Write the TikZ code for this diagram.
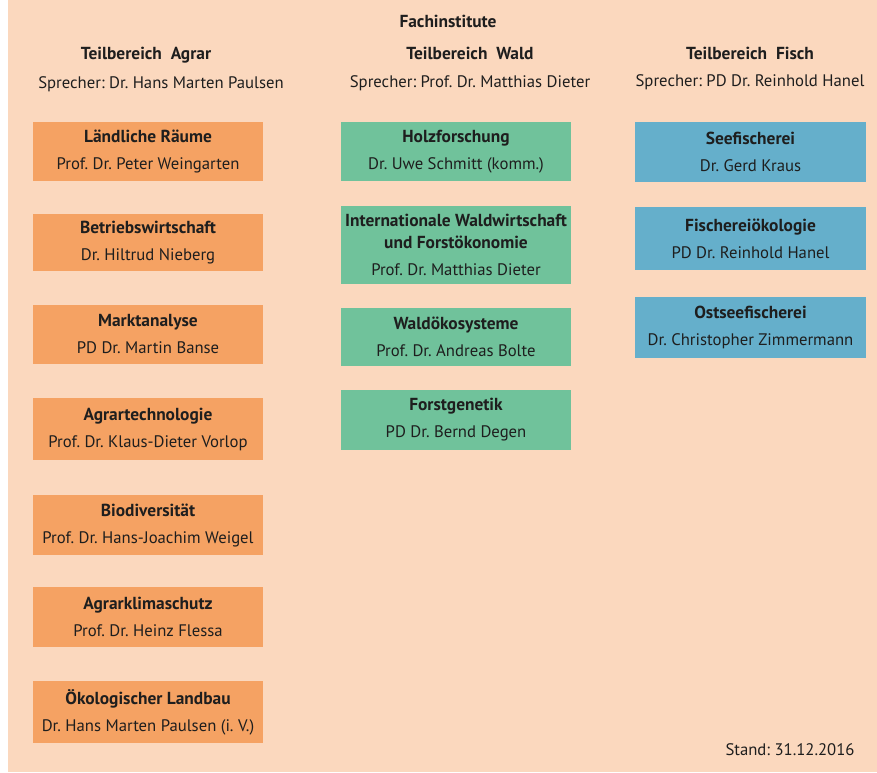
\documentclass[tikz,border=0pt]{standalone}
\usepackage{fontspec}
\setmainfont{PT Sans}
\frenchspacing
\definecolor{bgpeach}{HTML}{FBD8BE}
\definecolor{agrar}{HTML}{F5A263}
\definecolor{wald}{HTML}{70C29B}
\definecolor{fisch}{HTML}{65AFCB}
\definecolor{txt}{HTML}{1E1E1E}
\newcommand{\tb}[1]{{\fontsize{17.4}{22}\selectfont\bfseries #1}}
\tikzset{
  box/.style={minimum width=230pt, inner sep=0pt, align=center, text=txt,
    font=\fontsize{16.7}{22}\selectfont},
  head/.style={text=txt, font=\fontsize{17.4}{22}\selectfont\bfseries, inner sep=0pt, anchor=base},
  sub/.style={text=txt, font=\fontsize{16.7}{22}\selectfont, inner sep=0pt, anchor=base},
}
\newcommand{\bx}[2]{\tb{#1}\\[5pt]#2}
\begin{document}
\begin{tikzpicture}[x=1pt,y=-1pt]
\useasboundingbox (0,0) rectangle (877,772);
\fill[white] (0,0) rectangle (877,772);
\fill[bgpeach] (8,0) rectangle (877,772);

\node[head] (fach) at (448,27) {Fachinstitute};
\node[head] (ta) at (146,59) {Teilbereich\ \ Agrar};
\node[sub]  (sa) at (161,88) {Sprecher: Dr. Hans Marten Paulsen};
\node[head] (tw) at (470,59) {Teilbereich\ \ Wald};
\node[sub]  (sw) at (470,87) {Sprecher: Prof. Dr. Matthias Dieter};
\node[head] (tf) at (750,59) {Teilbereich\ \ Fisch};
\node[sub]  (sf) at (750,86) {Sprecher: PD Dr. Reinhold Hanel};

% Agrar
\node[box, fill=agrar, minimum height=59pt] (a1) at (148,151.5) {\bx{Ländliche Räume}{Prof. Dr. Peter Weingarten}};
\node[box, fill=agrar, minimum height=57pt] (a2) at (148,242.5) {\bx{Betriebswirtschaft}{Dr. Hiltrud Nieberg}};
\node[box, fill=agrar, minimum height=59pt] (a3) at (148,334.5) {\bx{Marktanalyse}{PD Dr. Martin Banse}};
\node[box, fill=agrar, minimum height=62pt] (a4) at (148,429) {\bx{Agrartechnologie}{Prof. Dr. Klaus-Dieter Vorlop}};
\node[box, fill=agrar, minimum height=60pt] (a5) at (148,525) {\bx{Biodiversität}{Prof. Dr. Hans-Joachim Weigel}};
\node[box, fill=agrar, minimum height=60pt] (a6) at (148,617) {\bx{Agrarklimaschutz}{Prof. Dr. Heinz Flessa}};
\node[box, fill=agrar, minimum height=62pt] (a7) at (148,712) {\bx{Ökologischer Landbau}{Dr. Hans Marten Paulsen (i. V.)}};

% Wald
\node[box, fill=wald, minimum height=59pt] (w1) at (456,151.5) {\bx{Holzforschung}{Dr. Uwe Schmitt (komm.)}};
\node[box, fill=wald, minimum height=78pt] (w2) at (456,244.5) {\tb{Internationale Waldwirtschaft}\\\tb{und Forstökonomie}\\[5pt]Prof. Dr. Matthias Dieter};
\node[box, fill=wald, minimum height=58pt] (w3) at (456,337) {\bx{Waldökosysteme}{Prof. Dr. Andreas Bolte}};
\node[box, fill=wald, minimum height=60pt] (w4) at (456,420) {\bx{Forstgenetik}{PD Dr. Bernd Degen}};

% Fisch
\node[box, fill=fisch, minimum width=231pt, minimum height=60pt] (f1) at (750.5,151.5) {\bx{Seefischerei}{Dr. Gerd Kraus}};
\node[box, fill=fisch, minimum width=231pt, minimum height=63pt] (f2) at (750.5,238.5) {\bx{Fischereiökologie}{PD Dr. Reinhold Hanel}};
\node[box, fill=fisch, minimum width=231pt, minimum height=61pt] (f3) at (750.5,327.5) {\bx{Ostseefischerei}{Dr. Christopher Zimmermann}};

\node[sub] (stand) at (790,755) {Stand: 31.12.2016};
\end{tikzpicture}
\end{document}
